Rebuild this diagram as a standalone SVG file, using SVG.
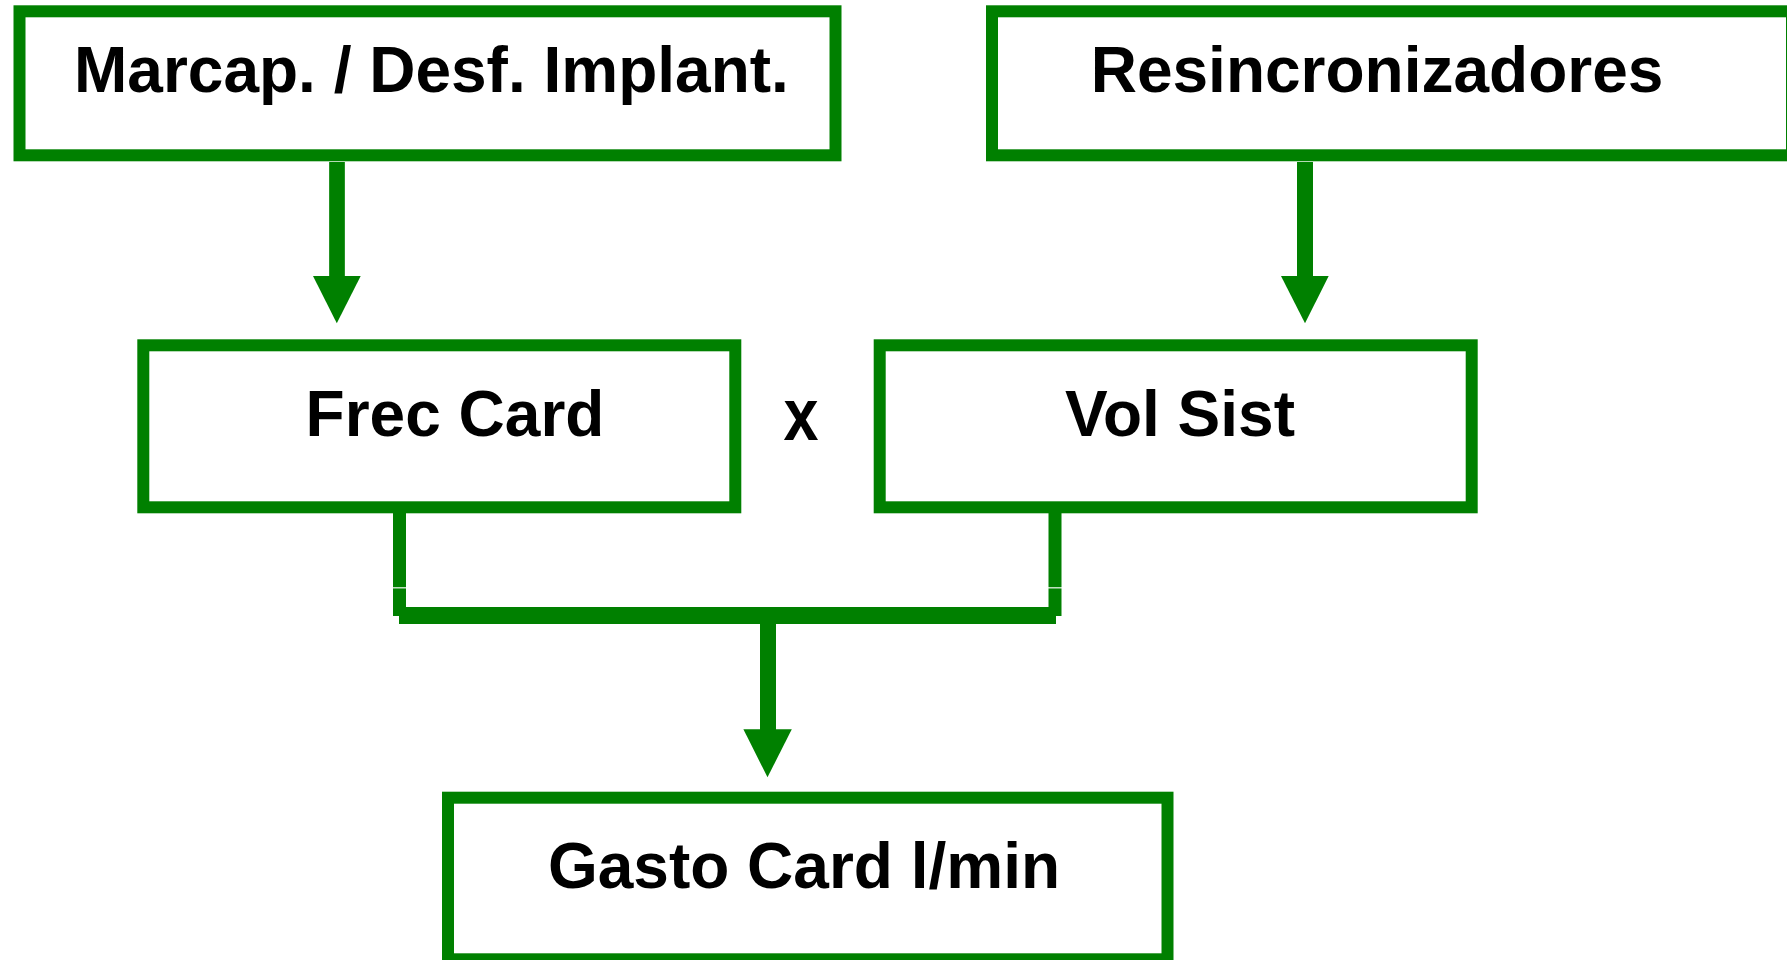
<svg xmlns="http://www.w3.org/2000/svg" width="1787" height="960" viewBox="0 0 1787 960">
<style>
.box{fill:#fff;stroke:#008000;stroke-width:12}
.lbl{font-family:"Liberation Sans",Arial,Helvetica,sans-serif;font-weight:bold;font-size:64px;fill:#000;text-anchor:middle}
.ln{stroke:#008000;fill:none}
.hd{fill:#008000}
</style>
<rect width="1787" height="960" fill="#fff"/>
<g id="node-marcap">
<rect class="box" x="19.5" y="11.3" width="816" height="144"/>
<text class="lbl" x="431.4" y="92.3">Marcap. / Desf. Implant.</text>
</g>
<g id="node-resincronizadores">
<rect class="box" x="992" y="11.3" width="800" height="144"/>
<text class="lbl" x="1377" y="92.3">Resincronizadores</text>
</g>
<g id="node-frec">
<rect class="box" x="143.3" y="345.3" width="592" height="162"/>
<text class="lbl" x="455" y="435.7">Frec Card</text>
</g>
<g id="node-x">
<text class="lbl" x="801" y="440.3" textLength="35" lengthAdjust="spacingAndGlyphs" style="font-size:75px">x</text>
</g>
<g id="node-vol">
<rect class="box" x="879.7" y="345.3" width="592" height="162"/>
<text class="lbl" x="1180" y="435.7">Vol Sist</text>
</g>
<g id="node-gasto">
<rect class="box" x="448" y="797.7" width="719.5" height="161.6"/>
<text class="lbl" x="804" y="888.3">Gasto Card l/min</text>
</g>
<g id="connectors">
<line class="ln" x1="337" y1="162" x2="337" y2="277" stroke-width="15.7"/>
<polygon class="hd" points="313,276 360.7,276 336.8,323.3"/>
<line class="ln" x1="1305" y1="162" x2="1305" y2="277" stroke-width="16"/>
<polygon class="hd" points="1281,276 1328.7,276 1305,323.3"/>
<line class="ln" x1="399.5" y1="513" x2="399.5" y2="587.3" stroke-width="13"/>
<line class="ln" x1="399.5" y1="588.4" x2="399.5" y2="616" stroke-width="13"/>
<line class="ln" x1="1055" y1="513" x2="1055" y2="587.3" stroke-width="13"/>
<line class="ln" x1="1055" y1="588.4" x2="1055" y2="616" stroke-width="13"/>
<rect class="hd" x="399" y="607" width="657" height="17"/>
<line class="ln" x1="768" y1="623" x2="768" y2="730" stroke-width="16"/>
<polygon class="hd" points="743.4,729.3 791.8,729.3 767.5,777.3"/>
</g>
</svg>
